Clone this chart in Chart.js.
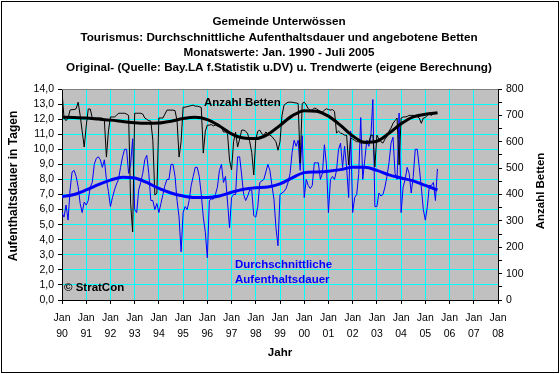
<!DOCTYPE html>
<html>
<head>
<meta charset="utf-8">
<script src="https://cdn.jsdelivr.net/npm/chart.js@4.4.1/dist/chart.umd.min.js"></script>
<style>
  html, body { margin: 0; padding: 0; background: #fff; }
</style>
</head>
<body>
<canvas id="tourismusChart" width="560" height="374"></canvas>
<script>
// Monatswerte Jan. 1990 - Juli 2005
var jahrLabels = ['90', '91', '92', '93', '94', '95', '96', '97', '98', '99', '00', '01', '02', '03', '04', '05', '06', '07', '08']

var bettenMonat = [
  790, 690, 680, 690, 720, 722, 722, 725, 750, 700, 640, 580, // 1990
  660, 724, 724, 690, 690, 690, 690, 690, 690, 680, 542, 640, // 1991
  694, 694, 694, 700, 708, 708, 708, 708, 705, 700, 367, 258, // 1992
  708, 708, 708, 708, 705, 690, 685, 680, 678, 606, 398, 405, // 1993
  690, 690, 690, 705, 720, 720, 720, 720, 718, 680, 542, 600, // 1994
  731, 731, 733, 735, 737, 739, 735, 735, 733, 730, 557, 640, // 1995
  663, 663, 665, 660, 663, 660, 660, 655, 637, 637, 630, 530, // 1996
  493, 600, 636, 580, 610, 644, 644, 640, 630, 600, 560, 474, // 1997
  610, 640, 644, 630, 625, 637, 630, 625, 620, 610, 600, 568, // 1998
  600, 700, 739, 745, 750, 750, 750, 748, 747, 745, 520, 745, // 1999
  750, 740, 725, 720, 720, 728, 725, 720, 715, 712, 720, 725, // 2000
  722, 720, 722, 715, 633, 640, 633, 630, 625, 625, 512, 614, // 2001
  610, 605, 600, 600, 595, 595, 595, 595, 598, 625, 625, 505, // 2002
  625, 610, 600, 595, 610, 620, 640, 652, 670, 680, 690, 512, // 2003
  690, 694, 694, 696, 700, 700, 700, 698, 695, 690, 670, 690, // 2004
  692, 700, 705, 700, 706, 708, 708                          // 2005
]

var dauerMonat = [
  5.8, 5.5, 6.3, 5.3, 7.3, 8.5, 8.6, 8.2, 7.5, 6.4, 5.8, 6.5, // 1990
  6.3, 6.6, 7.5, 7.8, 9.0, 9.4, 9.5, 9.3, 8.8, 9.3, 8.0, 7.2, // 1991
  6.2, 6.8, 7.3, 7.7, 8.0, 8.8, 9.5, 10.0, 10.0, 8.4, 9.0, 10.7, // 1992
  6.0, 5.8, 7.3, 7.8, 8.4, 9.3, 9.6, 8.4, 6.6, 6.6, 6.0, 6.4, // 1993
  5.8, 6.4, 7.0, 7.6, 8.0, 8.0, 9.0, 9.0, 8.2, 6.6, 5.5, 3.2, // 1994
  5.8, 6.2, 6.0, 6.6, 7.6, 8.2, 8.8, 8.8, 8.2, 7.0, 5.5, 4.5, // 1995
  2.8, 6.6, 6.7, 6.7, 7.0, 7.5, 8.6, 9.0, 7.8, 8.2, 6.5, 4.8, // 1996
  6.8, 7.0, 7.0, 9.5, 9.5, 8.3, 7.0, 6.6, 6.9, 7.3, 7.3, 5.6, // 1997
  5.5, 6.2, 7.8, 7.9, 8.0, 8.5, 9.0, 8.6, 7.6, 6.7, 4.8, 3.6, // 1998
  7.0, 7.1, 7.2, 7.4, 7.8, 8.4, 9.8, 10.6, 10.2, 10.6, 8.6, 10.9, // 1999
  6.8, 8.0, 7.6, 7.4, 7.6, 9.1, 9.1, 9.1, 8.0, 8.4, 10.3, 9.0, // 2000
  5.8, 8.0, 8.2, 8.0, 8.6, 10.0, 10.4, 8.8, 10.2, 8.8, 6.8, 11.2, // 2001
  5.8, 6.8, 7.0, 8.4, 12.1, 8.0, 9.3, 10.6, 10.2, 10.8, 13.3, 6.2, // 2002
  6.2, 7.1, 6.9, 7.0, 7.5, 8.2, 9.1, 10.4, 10.8, 8.4, 8.0, 12.4, // 2003
  5.8, 7.5, 8.0, 8.8, 8.4, 7.1, 8.2, 10.0, 10.0, 8.8, 7.5, 6.0, // 2004
  5.3, 6.2, 7.6, 7.6, 7.8, 6.6, 8.7                             // 2005
]

var bettenTrend = [693, 692, 690, 686, 682, 677, 672, 670, 671, 678, 688, 693, 684, 660, 630, 614,
  612, 628, 662, 698, 718, 716, 697, 662, 622, 598, 602, 632, 668, 694, 704, 710]
var dauerTrend = [6.85, 7.0, 7.3, 7.65, 7.95, 8.15, 8.1, 7.8, 7.4, 7.1, 6.9, 6.8, 6.8, 6.9, 7.15, 7.35,
  7.45, 7.5, 7.7, 8.1, 8.45, 8.5, 8.55, 8.65, 8.8, 8.8, 8.6, 8.3, 8.1, 7.9, 7.6, 7.3]

var titelZeilen = [
  'Gemeinde Unterwössen',
  'Tourismus: Durchschnittliche Aufenthaltsdauer und angebotene Betten',
  'Monatswerte: Jan. 1990 - Juli 2005',
  'Original- (Quelle: Bay.LA f.Statistik u.DV) u. Trendwerte (eigene Berechnung)'
]

function punkte(werte, schritt) {
  return werte.map(function (v, i) {
    return { x: i * schritt, y: v }
  })
}

Chart.defaults.font.family = "'Liberation Sans', Arial, sans-serif"
Chart.defaults.font.size = 11
Chart.defaults.color = '#000'

var deko = {
  id: 'deko',
  beforeDraw: function (chart) {
    var ctx = chart.ctx
    var a = chart.chartArea
    ctx.save()
    ctx.fillStyle = '#fff'
    ctx.fillRect(0, 0, chart.width, chart.height)
    ctx.fillStyle = '#C0C0C0'
    ctx.fillRect(a.left, a.top, a.right - a.left, a.bottom - a.top)
    ctx.restore()
  },
  afterDraw: function (chart) {
    var ctx = chart.ctx
    var a = chart.chartArea
    ctx.save()
    // Rahmen oben
    ctx.strokeStyle = '#808080'
    ctx.lineWidth = 1
    ctx.beginPath()
    ctx.moveTo(a.left, a.top + 0.5)
    ctx.lineTo(a.right, a.top + 0.5)
    ctx.stroke()
    // Rahmen aussen
    ctx.strokeStyle = '#000'
    ctx.strokeRect(1.5, 1.5, chart.width - 3, chart.height - 3)

    ctx.font = "bold 11.7px 'Liberation Sans', Arial, sans-serif"
    ctx.textAlign = 'center'
    ctx.textBaseline = 'middle'
    ctx.fillStyle = '#000'
    titelZeilen.forEach(function (z, i) {
      ctx.fillText(z, 279, 22 + i * 15.4)
    })
    ctx.font = "bold 11.5px 'Liberation Sans', Arial, sans-serif"
    ctx.fillText('Jahr', 280, 353)

    ctx.save()
    ctx.translate(14, 186)
    ctx.rotate(-Math.PI / 2)
    ctx.font = "bold 12px 'Liberation Sans', Arial, sans-serif"
    ctx.fillText('Aufenthaltsdauer in Tagen', 0, 0)
    ctx.restore()
    ctx.save()
    ctx.translate(541, 191)
    ctx.rotate(-Math.PI / 2)
    ctx.fillText('Anzahl Betten', 0, 0)
    ctx.restore()

    ctx.textAlign = 'left'
    ctx.fillText('Anzahl Betten', 204, 103)
    ctx.fillText('\u00A9 StratCon', 64, 288)
    ctx.fillStyle = '#0000FF'
    ctx.fillText('Durchschnittliche', 235, 265)
    ctx.fillText('Aufenthaltsdauer', 235, 280)
    ctx.restore()
  }
}

var ctx = document.getElementById('tourismusChart').getContext('2d')
var tourismusChart = new Chart(ctx, {
  type: 'line',
  data: {
    datasets: [
      {
        label: 'Betten Trend',
        data: punkte(bettenTrend, 6),
        yAxisID: 'y1',
        borderColor: '#000',
        borderWidth: 3,
        tension: 0.4,
        cubicInterpolationMode: 'monotone',
        order: 0
      },
      {
        label: 'Aufenthaltsdauer Trend',
        data: punkte(dauerTrend, 6),
        yAxisID: 'y',
        borderColor: '#0000FF',
        borderWidth: 3,
        tension: 0.4,
        cubicInterpolationMode: 'monotone',
        order: 1
      },
      {
        label: 'Anzahl Betten',
        data: punkte(bettenMonat, 1),
        yAxisID: 'y1',
        borderColor: '#000',
        borderWidth: 1,
        tension: 0,
        order: 2
      },
      {
        label: 'Durchschnittliche Aufenthaltsdauer',
        data: punkte(dauerMonat, 1),
        yAxisID: 'y',
        borderColor: '#0000FF',
        borderWidth: 1,
        tension: 0,
        order: 3
      }
    ]
  },
  options: {
    responsive: false,
    animation: false,
    devicePixelRatio: 1,
    layout: {
      padding: { left: 0, right: 0, top: 89, bottom: 0 }
    },
    elements: {
      point: { radius: 0 }
    },
    plugins: {
      legend: { display: false },
      title: { display: false },
      tooltip: { enabled: false }
    },
    scales: {
      x: {
        type: 'linear',
        min: 0,
        max: 216,
        afterFit: function (scale) { scale.height = 74 },
        ticks: {
          stepSize: 12,
          autoSkip: false,
          maxRotation: 0,
          padding: 6,
          font: { size: 10.5, lineHeight: 1.5 },
          callback: function (value) {
            return ['Jan', jahrLabels[value / 12]]
          }
        },
        grid: {
          color: '#00FFFF',
          lineWidth: 1,
          tickColor: '#000',
          tickLength: 4
        },
        border: { color: '#000' }
      },
      y: {
        position: 'left',
        min: 0,
        max: 14,
        afterFit: function (scale) { scale.width = 62 },
        ticks: {
          stepSize: 1,
          autoSkip: false,
          padding: 4,
          font: { size: 10.5 },
          callback: function (value) {
            return value.toFixed(1).replace('.', ',')
          }
        },
        grid: {
          color: '#00FFFF',
          lineWidth: 1,
          tickColor: '#000',
          tickLength: 4
        },
        border: { color: '#000' }
      },
      y1: {
        position: 'right',
        min: 0,
        max: 800,
        afterFit: function (scale) { scale.width = 62 },
        ticks: {
          stepSize: 50,
          autoSkip: false,
          padding: 4,
          font: { size: 10.5 },
          callback: function (value) {
            return value % 100 === 0 ? value : ''
          }
        },
        grid: {
          drawOnChartArea: false,
          tickColor: '#000',
          tickLength: 4
        },
        border: { color: '#000' }
      }
    }
  },
  plugins: [deko]
})
</script>
</body>
</html>
